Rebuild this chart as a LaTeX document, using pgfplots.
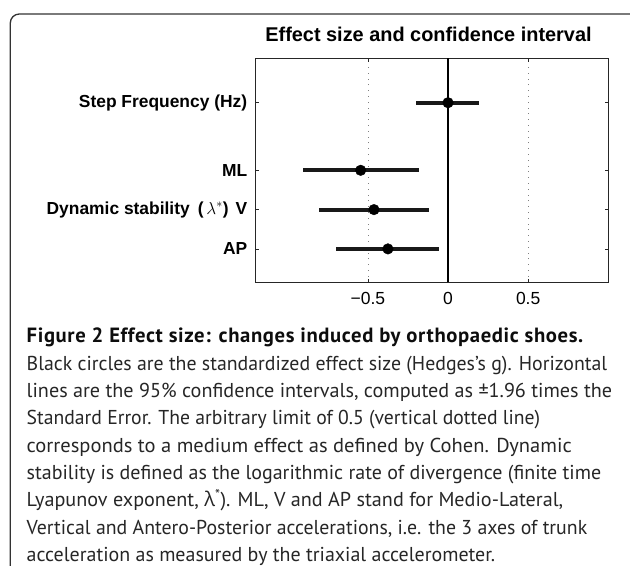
\documentclass[border=0pt]{standalone}
\usepackage{pgfplots}
\pgfplotsset{compat=1.18}
\usepackage{fontspec}
\setmainfont{Liberation Sans}
\newfontfamily\capfont{PT Sans}
\newfontfamily\capbold[LetterSpace=3]{PT Sans Bold}
\newfontfamily\grkfont{Open Sans}
\newcommand{\capline}[3]{\node at (26.5bp,-#1bp) {\resizebox{#2bp}{\height}{#3}};}
\begin{document}
\begin{tikzpicture}
\path[use as bounding box] (0bp,0bp) rectangle (630bp,-566bp);
\draw[line width=1.3bp, black!80, rounded corners=9bp] (10.3bp,-575bp) -- (10.3bp,-14bp) -- (645bp,-14bp);
\begin{axis}[
  at={(255.7bp,-282.3bp)}, anchor=south west,
  width=352.6bp, height=224bp, scale only axis,
  xmin=-1.2, xmax=1, ymin=0.15, ymax=5.85,
  xtick={-0.5,0,0.5}, xticklabels={−0.5,0,0.5},
  ytick={1,2,3,4.72},
  yticklabels={AP,{Dynamic stability\hspace{8bp}(\,$\lambda^{*}$)\hspace{7bp}V\hspace{6bp}},ML,Step Frequency (Hz)},
  tick align=inside, major tick length=3.5bp,
  xtick pos=both, ytick pos=both,
  axis line style={line width=0.8bp, black!85},
  tick style={line width=0.6bp, black!85},
  xmajorgrids, major grid style={line width=0.7bp, gray, dash pattern=on 0.8bp off 5bp},
  xticklabel style={font=\fontsize{17.5bp}{20bp}\selectfont, yshift=-6.5bp},
  yticklabel style={font=\bfseries\fontsize{17.4bp}{20bp}\selectfont, xshift=-5bp},
  title={Effect size and confidence interval},
  title style={font=\bfseries\fontsize{19.9bp}{22bp}\selectfont, at={(0.5,1)}, anchor=center, yshift=17.6bp, xshift=-3.5bp},
]
\addplot[black, line width=1.3bp] coordinates {(0,0.15) (0,5.85)};
\addplot[black, only marks, mark=*, mark size=5.3bp,
  error bars/.cd, x dir=both, x explicit, error mark=none,
  error bar style={line width=4.2bp, black!90}]
  coordinates {
    (0.000,4.72) += (0.193,0) -= (0.197,0)
    (-0.545,3) += (0.365,0) -= (0.362,0)
    (-0.462,2) += (0.346,0) -= (0.341,0)
    (-0.375,1) += (0.321,0) -= (0.321,0)
  };
\end{axis}
\begin{scope}[every node/.style={anchor=base west, inner sep=0pt, text=black!85, font=\capfont\fontsize{20.1bp}{22bp}\selectfont}]
\node[text=black!95, font=\capbold\fontsize{20.6bp}{22bp}\selectfont] at (26.5bp,-342.7bp) {\resizebox{556.5bp}{\height}{Figure 2 Effect size: changes induced by orthopaedic shoes.}};
\capline{370.05}{580.5}{Black circles are the standardized effect size (Hedges’s g). Horizontal}
\capline{397.4}{585.5}{lines are the 95\% confidence intervals, computed as ±1.96 times the}
\capline{424.75}{513.5}{Standard Error. The arbitrary limit of 0.5 (vertical dotted line)}
\capline{452.1}{545}{corresponds to a medium effect as defined by Cohen. Dynamic}
\capline{479.45}{574.5}{stability is defined as the logarithmic rate of divergence (finite time}
\capline{506.8}{536.5}{Lyapunov exponent, {\grkfont λ}\textsuperscript{*}). ML, V and AP stand for Medio-Lateral,}
\capline{534.15}{560.5}{Vertical and Antero-Posterior accelerations, i.e. the 3 axes of trunk}
\capline{561.5}{468.5}{acceleration as measured by the triaxial accelerometer.}
\end{scope}
\end{tikzpicture}
\end{document}
